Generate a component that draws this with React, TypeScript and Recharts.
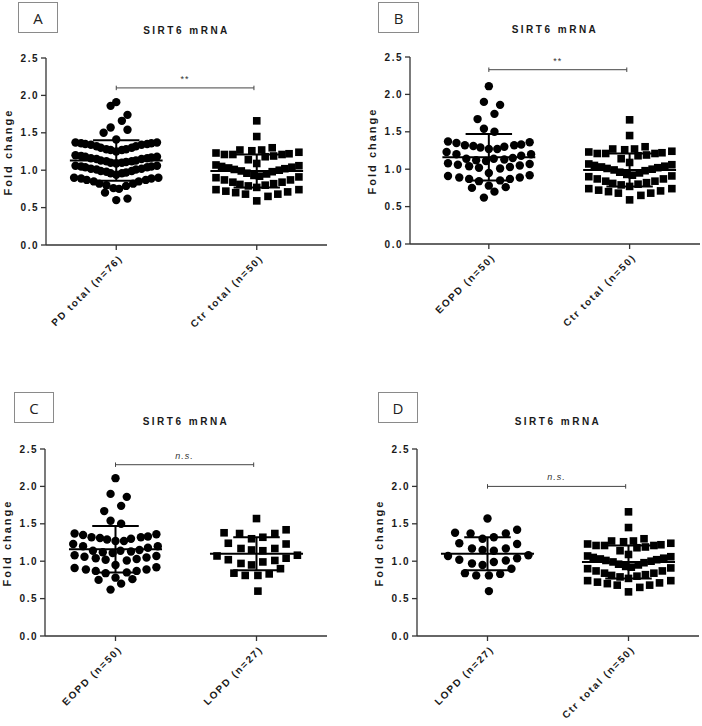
import React from 'react'
import { ScatterChart, Scatter, XAxis, YAxis, ReferenceLine, ReferenceDot } from 'recharts'

// each point: [offset from group centre (category units), fold change]
const pdTotal: [number, number][] = [
  [0, 1.91], [-0.04, 1.86], [0.08, 1.74], [0.04, 1.66], [-0.04, 1.57], [0.08, 1.54], [-0.09, 1.5], [0, 1.41],
  [-0.29, 1.37], [-0.25, 1.36], [-0.22, 1.35], [-0.18, 1.34], [-0.14, 1.32], [-0.11, 1.3], [-0.07, 1.28], [-0.04, 1.27], [0, 1.25],
  [0.04, 1.27], [0.07, 1.28], [0.11, 1.3], [0.14, 1.32], [0.18, 1.34], [0.22, 1.35], [0.25, 1.36], [0.29, 1.37],
  [-0.29, 1.2], [-0.25, 1.19], [-0.22, 1.18], [-0.18, 1.16], [-0.14, 1.15], [-0.11, 1.13], [-0.07, 1.12], [-0.04, 1.1], [0, 1.09],
  [0.04, 1.1], [0.07, 1.11], [0.11, 1.12], [0.14, 1.13], [0.18, 1.15], [0.22, 1.16], [0.25, 1.17], [0.29, 1.18],
  [-0.29, 1.06], [-0.25, 1.05], [-0.22, 1.04], [-0.18, 1.02], [-0.14, 1.01], [-0.11, 0.99], [-0.07, 0.98], [-0.04, 0.96], [0, 0.94],
  [0.04, 0.96], [0.07, 0.97], [0.11, 0.99], [0.14, 1.01], [0.18, 1.02], [0.22, 1.04], [0.25, 1.05], [0.29, 1.06],
  [-0.3, 0.9], [-0.25, 0.89], [-0.21, 0.87], [-0.16, 0.85], [-0.12, 0.82], [-0.07, 0.8], [-0.02, 0.76],
  [0.02, 0.75], [0.07, 0.79], [0.12, 0.82], [0.16, 0.85], [0.21, 0.87], [0.25, 0.89], [0.3, 0.9],
  [-0.08, 0.7], [0, 0.6], [0.08, 0.62],
]

const ctrTotal: [number, number][] = [
  [0, 1.66], [0, 1.45],
  [-0.29, 1.23], [-0.23, 1.21], [-0.17, 1.21], [-0.12, 1.27], [-0.06, 1.14], [-0.035, 1.26], [0, 1.09],
  [0.035, 1.27], [0.06, 1.18], [0.11, 1.3], [0.12, 1.19], [0.18, 1.21], [0.23, 1.22], [0.3, 1.24],
  [-0.29, 1.07], [-0.25, 1.05], [-0.2, 1.03], [-0.16, 1.01], [-0.11, 0.99], [-0.07, 0.96], [-0.02, 0.93],
  [0.02, 0.92], [0.07, 0.95], [0.11, 0.98], [0.16, 1.0], [0.2, 1.02], [0.25, 1.04], [0.3, 1.06],
  [-0.29, 0.9], [-0.23, 0.87], [-0.17, 0.84], [-0.12, 0.81], [-0.06, 0.79], [0, 0.77],
  [0.06, 0.8], [0.12, 0.82], [0.18, 0.84], [0.24, 0.87], [0.3, 0.91],
  [-0.29, 0.74], [-0.22, 0.72], [-0.15, 0.7], [-0.08, 0.68], [0, 0.59], [0.08, 0.65], [0.15, 0.68], [0.22, 0.71], [0.3, 0.74],
]

const eopd: [number, number][] = [
  [0, 2.11], [-0.035, 1.9], [0.08, 1.86], [0.04, 1.74], [-0.08, 1.67], [-0.035, 1.54], [0.04, 1.5],
  [-0.29, 1.37], [-0.23, 1.35], [-0.17, 1.32], [-0.11, 1.31], [-0.06, 1.29], [0, 1.27],
  [0.06, 1.27], [0.11, 1.3], [0.18, 1.32], [0.23, 1.33], [0.29, 1.36],
  [-0.3, 1.23], [-0.23, 1.2], [-0.16, 1.14], [-0.09, 1.12], [-0.02, 1.11],
  [0.035, 1.14], [0.11, 1.13], [0.17, 1.15], [0.23, 1.18], [0.3, 1.2],
  [-0.29, 1.08], [-0.22, 1.06], [-0.14, 1.04], [-0.07, 1.02], [0.08, 1.01], [0.15, 1.03], [0.22, 1.05], [0.29, 1.07],
  [-0.29, 0.91], [-0.21, 0.89], [-0.14, 0.87], [-0.07, 0.84], [0, 0.95], [0.08, 0.85], [0.15, 0.87], [0.22, 0.89], [0.29, 0.92],
  [-0.12, 0.75], [0, 0.78], [0.12, 0.76], [0.04, 0.7], [-0.035, 0.62],
]

const lopd: [number, number][] = [
  [0, 1.57],
  [-0.23, 1.38], [-0.12, 1.37], [-0.035, 1.3], [0.045, 1.32], [0.13, 1.37], [0.21, 1.42],
  [-0.2, 1.24], [-0.11, 1.17], [-0.035, 1.15], [0.045, 1.14], [0.13, 1.17], [0.21, 1.23],
  [-0.28, 1.07], [-0.2, 1.02], [-0.11, 0.97], [-0.035, 0.95], [0.045, 0.99], [0.13, 1.01], [0.21, 1.04], [0.29, 1.08],
  [-0.16, 0.84], [-0.08, 0.81], [0.01, 0.81], [0.09, 0.83], [0.17, 0.9],
  [0.01, 0.6],
]

// mean, SD
const pdStats = [1.13, 0.27]
const ctrStats = [0.99, 0.22]
const eopdStats = [1.16, 0.31]
const lopdStats = [1.1, 0.22]

const yTicks = [0, 0.5, 1, 1.5, 2, 2.5]

const FONT = '"Liberation Sans", Arial, sans-serif'
const INK = '#1a1a1a'

type Group = { label: string; points: [number, number][]; stats: number[] }

interface PanelProps {
  letter: string
  groups: Group[]
  bracketY: number
  sig: string
  left: number
  top: number
  plotLeft: number
  plotTop: number
  plotRight: number
  xDomain: [number, number]
  boxX: number
  boxY: number
  boxW: number
}

const circleShape = (p: any) => <circle cx={p.cx} cy={p.cy} r={4.2} fill="#000" />
const squareShape = (p: any) => <rect x={p.cx - 3.8} y={p.cy - 3.8} width={7.6} height={7.6} fill="#000" />

function YTick({ x, y, payload }: any) {
  return (
    <text x={x} y={y} dy={3.5} textAnchor="end" fontSize={10} fontWeight="bold" fill={INK}
      fontFamily={FONT} style={{ letterSpacing: '1.5px' }}>
      {Number(payload.value).toFixed(1)}
    </text>
  )
}

function makeXTick(labels: string[]) {
  return function XTick({ x, y, payload }: any) {
    const ax = x + 7
    const ay = y + 7
    return (
      <text x={ax} y={ay} transform={`rotate(-45, ${ax}, ${ay})`} textAnchor="end" fontSize={10}
        fontWeight="bold" fill={INK} fontFamily={FONT} style={{ letterSpacing: '1.7px' }}>
        {labels[payload.value - 1]}
      </text>
    )
  }
}

function Panel(props: PanelProps) {
  const W = 351
  const H = 363
  const plotH = 187
  const labels = props.groups.map((g) => g.label)
  const b = props.bracketY
  return (
    <div style={{ position: 'absolute', left: props.left, top: props.top, width: W, height: H }}>
      <div style={{
        position: 'absolute', left: props.boxX, top: props.boxY, width: props.boxW, height: 31,
        border: '1px solid #8a8a8a', boxSizing: 'border-box', display: 'flex', alignItems: 'center',
        justifyContent: 'center', fontFamily: '"Open Sans", sans-serif', fontSize: 15, color: '#222',
      }}>{props.letter}</div>
      <div style={{
        position: 'absolute', left: props.plotLeft, width: props.plotRight - props.plotLeft,
        top: props.plotTop - 33, textAlign: 'center', fontFamily: FONT, fontWeight: 'bold',
        fontSize: 10, letterSpacing: '2.5px', color: INK,
      }}>SIRT6 mRNA</div>
      <div style={{
        position: 'absolute', left: props.plotLeft - 38 - 60, top: props.plotTop + plotH / 2 - 8,
        width: 120, height: 16, lineHeight: '16px', textAlign: 'center', transform: 'rotate(-90deg)',
        fontFamily: FONT, fontWeight: 'bold', fontSize: 11, letterSpacing: '2px', color: INK,
      }}>Fold change</div>
      <ScatterChart width={W} height={H}
        margin={{ top: props.plotTop, right: W - props.plotRight, left: 0, bottom: 6 }}>
        <XAxis type="number" dataKey="x" domain={props.xDomain} ticks={[1, 2]} allowDataOverflow
          height={H - props.plotTop - plotH - 6} tick={makeXTick(labels)} tickSize={5}
          axisLine={{ stroke: '#333', strokeWidth: 1.3 }} tickLine={{ stroke: '#333', strokeWidth: 1.3 }} />
        <YAxis type="number" dataKey="y" domain={[0, 2.5]} ticks={yTicks} width={props.plotLeft}
          tick={<YTick />} tickSize={5} axisLine={{ stroke: '#333', strokeWidth: 1.3 }}
          tickLine={{ stroke: '#333', strokeWidth: 1.3 }} />
        {props.groups.map((g, i) => (
          <Scatter key={g.label} data={g.points.map(([o, v]) => ({ x: i + 1 + o, y: v }))}
            shape={i === 0 ? circleShape : squareShape} isAnimationActive={false} />
        ))}
        {props.groups.map((g, i) => {
          const c = i + 1
          const [m, sd] = g.stats
          return [
            <ReferenceLine key={`m${i}`} segment={[{ x: c - 0.33, y: m }, { x: c + 0.33, y: m }]} stroke="#000" strokeWidth={2} />,
            <ReferenceLine key={`v${i}`} segment={[{ x: c, y: m - sd }, { x: c, y: m + sd }]} stroke="#000" strokeWidth={2} />,
            <ReferenceLine key={`u${i}`} segment={[{ x: c - 0.165, y: m + sd }, { x: c + 0.165, y: m + sd }]} stroke="#000" strokeWidth={2} />,
            <ReferenceLine key={`l${i}`} segment={[{ x: c - 0.165, y: m - sd }, { x: c + 0.165, y: m - sd }]} stroke="#000" strokeWidth={2} />,
          ]
        })}
        <ReferenceLine segment={[{ x: 1, y: b }, { x: 1.98, y: b }]} stroke="#444" strokeWidth={1} />
        <ReferenceLine segment={[{ x: 1, y: b - 0.03 }, { x: 1, y: b + 0.03 }]} stroke="#444" strokeWidth={1} />
        <ReferenceLine segment={[{ x: 1.98, y: b - 0.03 }, { x: 1.98, y: b + 0.03 }]} stroke="#444" strokeWidth={1} />
        <ReferenceDot x={1.49} y={b} r={0.01} fill="none" stroke="none"
          label={{ value: props.sig, position: 'top', offset: 6, fontSize: 9, fill: '#333', fontFamily: FONT,
            fontStyle: props.sig === '**' ? 'normal' : 'italic', letterSpacing: 1 }} />
      </ScatterChart>
    </div>
  )
}

export default function App() {
  const pd = { label: 'PD total (n=76)', points: pdTotal, stats: pdStats }
  const ctr = { label: 'Ctr total (n=50)', points: ctrTotal, stats: ctrStats }
  const eo = { label: 'EOPD (n=50)', points: eopd, stats: eopdStats }
  const lo = { label: 'LOPD (n=27)', points: lopd, stats: lopdStats }
  return (
    <div style={{ position: 'absolute', left: 0, top: 0, width: 702, height: 726, background: '#fff' }}>
      <Panel letter="A" groups={[pd, ctr]} bracketY={2.1} sig="**" left={0} top={0}
        plotLeft={46} plotTop={58} plotRight={327} xDomain={[0.5, 2.5]} boxX={18} boxY={2} boxW={40} />
      <Panel letter="B" groups={[eo, ctr]} bracketY={2.33} sig="**" left={351} top={0}
        plotLeft={59} plotTop={57} plotRight={349} xDomain={[0.44, 2.5]} boxX={27} boxY={2} boxW={41} />
      <Panel letter="C" groups={[eo, lo]} bracketY={2.29} sig="n.s." left={0} top={363}
        plotLeft={45} plotTop={86} plotRight={327} xDomain={[0.5, 2.5]} boxX={14} boxY={29} boxW={40} />
      <Panel letter="D" groups={[lo, ctr]} bracketY={2.0} sig="n.s." left={351} top={363}
        plotLeft={66} plotTop={86} plotRight={348} xDomain={[0.5, 2.5]} boxX={27} boxY={29} boxW={40} />
    </div>
  )
}
